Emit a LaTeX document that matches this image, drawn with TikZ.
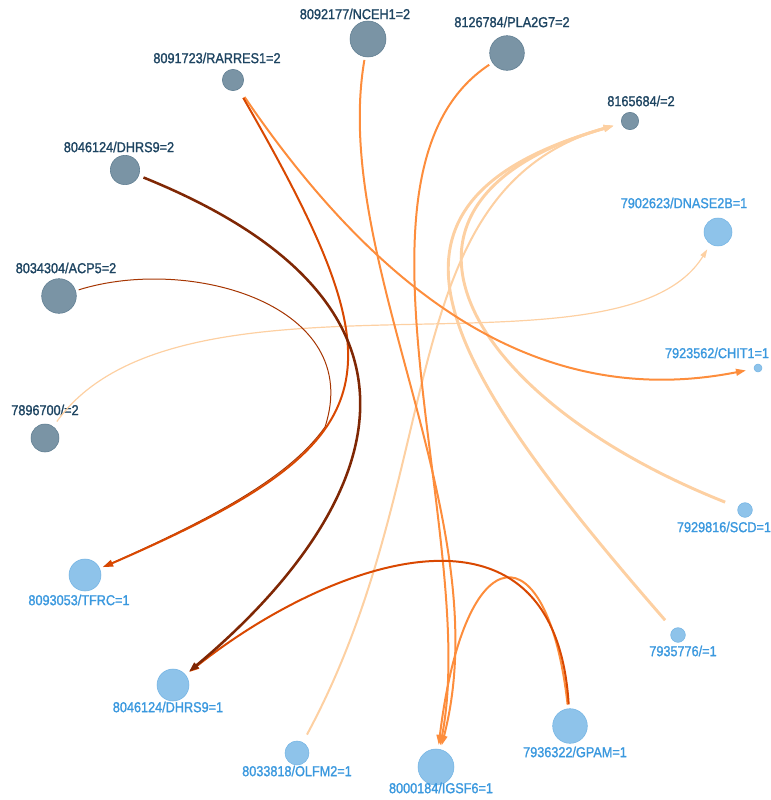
\documentclass[tikz,border=0pt]{standalone}
\usepackage{fontspec}
\setmainfont{Liberation Sans}[FakeStretch=0.88, FakeBold=1.3]
\usetikzlibrary{arrows.meta}
\definecolor{probe-dark}{HTML}{7A94A5}
\definecolor{probe-dark-rim}{HTML}{5C7B8F}
\definecolor{probe-light}{HTML}{8EC3EA}
\definecolor{probe-light-rim}{HTML}{74B4E4}
\definecolor{name-dark}{HTML}{1D4461}
\definecolor{name-light}{HTML}{3A98DE}
\definecolor{orange-1}{HTML}{7F2704}
\definecolor{orange-2}{HTML}{A63603}
\definecolor{orange-3}{HTML}{D94801}
\definecolor{orange-4}{HTML}{FD8D3C}
\definecolor{orange-5}{HTML}{FDD0A2}
\tikzset{
    gene-two/.style = {circle, fill=probe-dark, draw=probe-dark-rim, thin, inner sep=0pt, minimum size=#1},
    gene-one/.style = {circle, fill=probe-light, draw=probe-light-rim, thin, inner sep=0pt, minimum size=#1},
    name-two/.style = {text=name-dark, font=\fontsize{10.8}{12}\selectfont, inner sep=0pt},
    name-one/.style = {text=name-light, font=\fontsize{10.8}{12}\selectfont, inner sep=0pt},
    link/.style = {draw=#1, -{Triangle[length=7.5pt, width=5pt]}},
    thin-link/.style = {draw=#1, -{Triangle[length=6.5pt, width=4pt]}},
}

\begin{document}
\begin{tikzpicture}[x=0.75pt, y=-0.75pt]
\useasboundingbox (0,0) rectangle (771,800);
% probes of group 2
\node[gene-two=27pt] (nceh) at (368,39) {};
\node[gene-two=26pt] (pla) at (507,53) {};
\node[gene-two=16pt] (rarres) at (233,80) {};
\node[gene-two=13pt] (p8165684) at (630,121) {};
\node[gene-two=22pt] (dhrs-two) at (125,170) {};
\node[gene-two=26pt] (acp) at (59,296) {};
\node[gene-two=21pt] (p7896700) at (45,438) {};
\node[name-two] (nceh-name) at (355,14) {8092177/NCEH1=2};
\node[name-two] (pla-name) at (512,22) {8126784/PLA2G7=2};
\node[name-two] (rarres-name) at (217,58) {8091723/RARRES1=2};
\node[name-two] (p8165684-name) at (641,101) {8165684/=2};
\node[name-two] (dhrs-two-name) at (119,147) {8046124/DHRS9=2};
\node[name-two] (acp-name) at (66,268) {8034304/ACP5=2};
\node[name-two] (p7896700-name) at (45,410) {7896700/=2};
% probes of group 1
\node[gene-one=21pt] (dnase) at (718,232) {};
\node[gene-one=6pt] (chit) at (758,368) {};
\node[gene-one=11pt] (scd) at (745,510) {};
\node[gene-one=11pt] (p7935776) at (678,635) {};
\node[gene-one=26pt] (gpam) at (570,726) {};
\node[gene-one=27pt] (igsf) at (436,767) {};
\node[gene-one=18pt] (olfm) at (297,753) {};
\node[gene-one=24pt] (dhrs-one) at (173,685) {};
\node[gene-one=24pt] (tfrc) at (85,575) {};
\node[name-one] (dnase-name) at (684,203) {7902623/DNASE2B=1};
\node[name-one] (chit-name) at (717,353) {7923562/CHIT1=1};
\node[name-one] (scd-name) at (724,527) {7929816/SCD=1};
\node[name-one] (p7935776-name) at (683,651) {7935776/=1};
\node[name-one] (gpam-name) at (575,752) {7936322/GPAM=1};
\node[name-one] (igsf-name) at (441,788) {8000184/IGSF6=1};
\node[name-one] (olfm-name) at (297,771) {8033818/OLFM2=1};
\node[name-one] (dhrs-one-name) at (168,707) {8046124/DHRS9=1};
\node[name-one] (tfrc-name) at (79,600) {8093053/TFRC=1};
% links
\draw[thin-link=orange-5, line width=0.9pt, shorten <=4.5pt, shorten >=4.5pt] (p7896700) .. controls (180,250) and (620,390) .. (dnase);
\draw[link=orange-5, line width=1.5pt, shorten <=6.5pt, shorten >=6pt] (olfm) .. controls (450,470) and (390,190) .. (p8165684);
\draw[link=orange-5, line width=2.2pt, shorten <=10.3pt, shorten >=6pt] (scd) .. controls (465,399) and (348,202) .. (p8165684);
\draw[link=orange-5, line width=2.2pt, shorten <=9pt, shorten >=6pt] (p7935776) .. controls (435,356) and (348,202) .. (p8165684);
\draw[link=orange-4, line width=1.5pt, shorten <=2.25pt, shorten >=3pt] (nceh) .. controls (330,260) and (500,520) .. (igsf);
\draw[link=orange-4, line width=1.5pt, shorten <=2.8pt, shorten >=3pt] (pla) .. controls (330,170) and (480,540) .. (igsf);
\draw[link=orange-4, line width=1.5pt, shorten <=3pt, shorten >=3pt] (gpam) .. controls (548,530) and (465,530) .. (igsf);
\draw[link=orange-4, line width=1.5pt, shorten <=7.2pt, shorten >=6pt] (rarres) .. controls (385,303) and (545,410) .. (chit);
\draw[thin-link=orange-2, line width=0.75pt, shorten <=2.25pt, shorten >=2.6pt] (acp) .. controls (190,255) and (365,305) .. (325,427) .. controls (291,475) and (220,515) .. (tfrc);
\draw[link=orange-3, line width=1.5pt, shorten <=7.2pt, shorten >=2.6pt] (rarres) .. controls (403,376) and (396,440) .. (tfrc);
\draw[link=orange-3, line width=1.5pt, shorten <=3pt, shorten >=3.4pt] (gpam) .. controls (555,480) and (330,560) .. (dhrs-one);
\draw[link=orange-1, line width=1.9pt, shorten <=3.75pt, shorten >=3.4pt] (dhrs-two) .. controls (476,312) and (370,520) .. (dhrs-one);
\end{tikzpicture}
\end{document}
